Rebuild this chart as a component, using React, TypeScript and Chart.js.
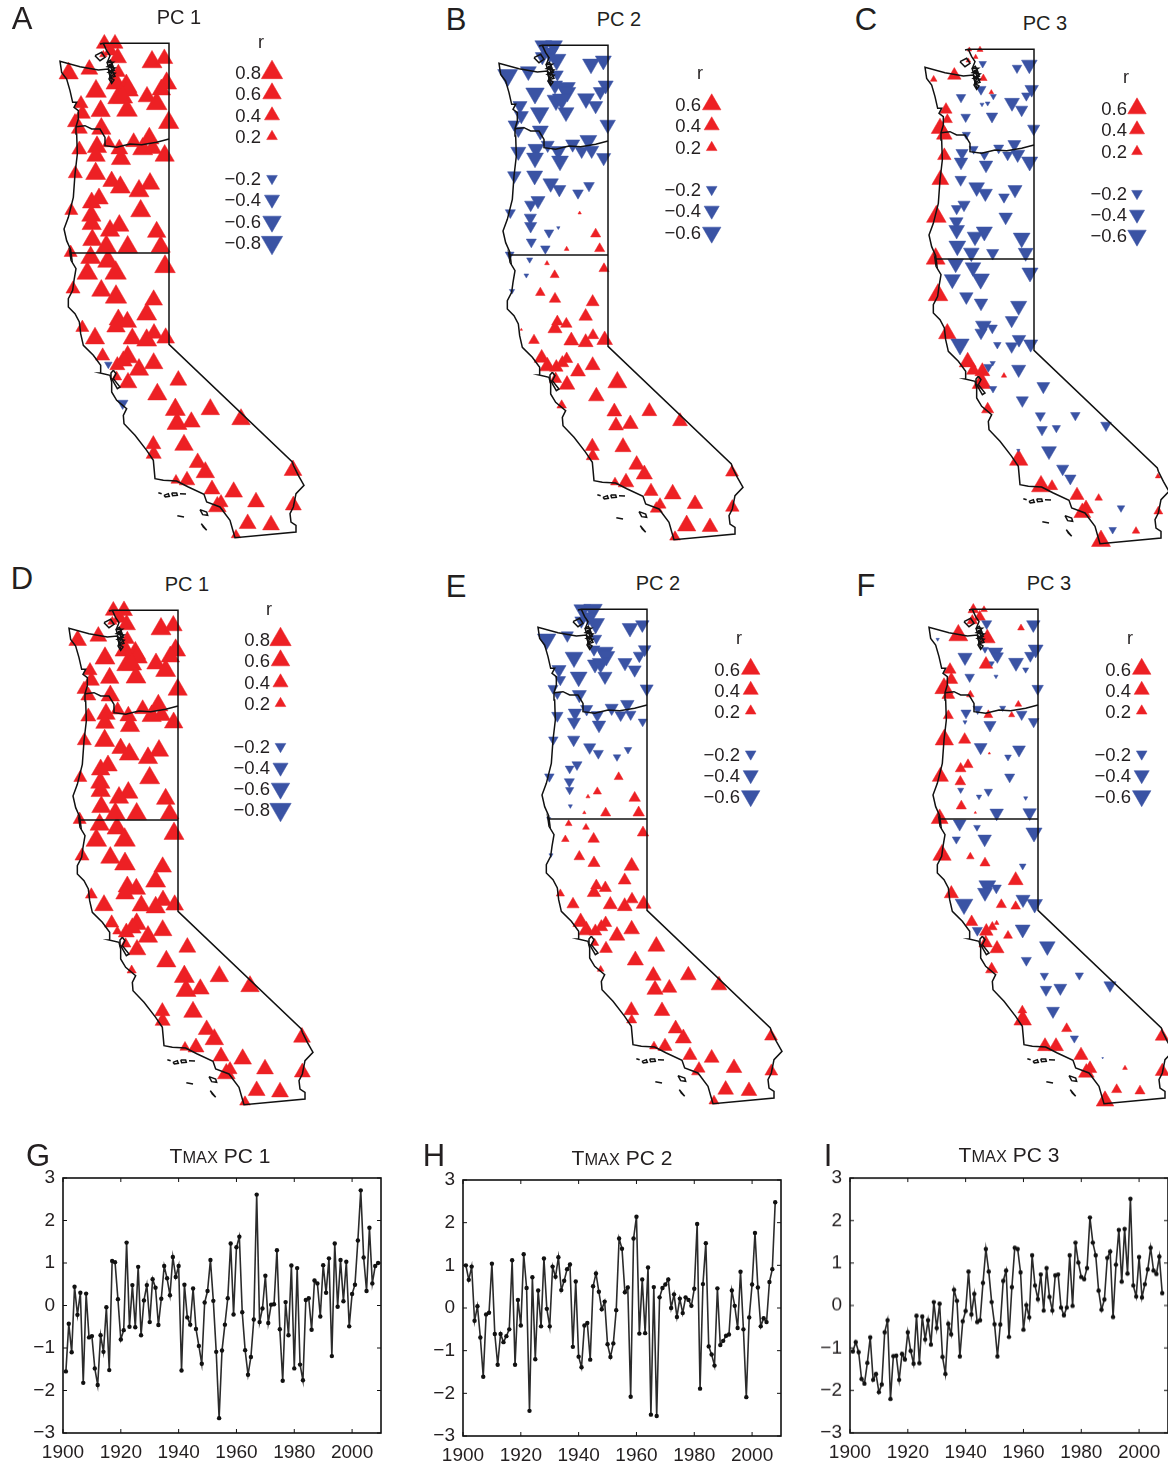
import React, { useEffect, useRef } from "react";
import { Chart, registerables } from "chart.js";

Chart.register(...registerables);

// Stations, in map-grid units (east / north of the 120W, 42N corner of the study box)
const stationEast = [
  -194, -162, -175, -197, -154, -51, -14, -239, -301, -152,
  -159, -7, -128, -122, -23, -219, -156, -139, -66, -37,
  -205, -126, -264, -260, -282, -269, -1, -203, -181, -106,
  -59, -149, -216, -79, -49, -269, -219, -144, -13, -281,
  -220, -172, -146, -90, -57, -232, -210, -293, -85, -233,
  -232, -149, -177, -37, -230, -188, -124, -25, -295, -235,
  -183, -12, -245, -160, -288, -203, -159, -46, -67, -152,
  -125, -159, -260, -222, -110, -67, -45, -10, -199, -182,
  -155, -124, -137, -90, -46, -157, -123, 28, -35, -139,
  19, 124, 24, 67, 216, 45, -46, -47, 86, 109,
  372, 21, 54, 129, 194, 261, 373, 156, 145, 236, 306, 201,
];
const stationNorth = [
  628, 628, 606, 595, 586, 573, 583, 551, 539, 542,
  509, 509, 500, 488, 490, 485, 464, 467, 469, 448,
  426, 428, 448, 418, 392, 373, 391, 373, 330, 333,
  344, 312, 318, 312, 314, 310, 291, 282, 292, 238,
  238, 215, 197, 186, 208, 151, 163, 127, 126, 112,
  87, 82, 67, 63, 39, 19, 18, 19, 1, -14,
  -25, -41, -61, -60, -108, -113, -132, -141, -184, -200,
  -207, -221, -224, -256, -257, -262, -241, -255, -309, -334,
  -337, -312, -324, -350, -331, -372, -389, -382, -424, -451,
  -470, -469, -512, -507, -499, -576, -603, -574, -629, -658,
  -652, -682, -682, -709, -717, -747, -757, -749, -761, -812, -816, -846,
];

// Correlation r per station, one list per panel
const rA = [
  .45, .45, .35, .1, .55, .7, .5, .5, .65, .35,
  .7, .7, .8, .7, .6, .75, .6, .7, .55, .75,
  .65, .75, .35, .45, .4, .45, .72, .65, .3, .45,
  .65, .5, .65, .7, .55, .4, .6, .65, .65, .35,
  .7, .55, .7, .7, .65, .6, .6, .3, .7, .65,
  .65, .65, .65, .6, .65, .75, .7, .65, .3, .7,
  .75, .75, .75, .8, .35, .65, .8, .55, .7, .6,
  .6, .6, .3, .65, .6, .7, .5, .55, .35, -.1,
  .4, .7, .55, .65, .6, .18, .55, .5, .65, -.2,
  .7, .6, .7, .55, .6, .6, .4, .4, .5, .6,
  .55, .18, .43, .45, .55, .5, .45, .35, .55, .5, .5, .16,
];
const rB = [
  -.5, -.5, -.5, -.35, -.6, -.5, -.45, -.45, -.7, -.25,
  -.4, -.4, -.7, -.5, -.35, -.6, -.55, -.6, -.5, -.35,
  -.6, -.45, -.35, -.35, -.25, -.25, -.42, -.45, -.3, -.35,
  -.5, -.42, -.45, -.3, -.35, -.4, -.5, -.5, -.35, -.32,
  -.45, -.42, -.3, -.2, -.2, -.26, -.35, -.18, .02, -.26,
  -.26, -.02, -.16, .18, -.18, -.16, .04, .18, -.14, -.065,
  .04, .18, -.04, .14, -.05, .16, .23, .29, .32, .23,
  .23, .35, .01, .2, .39, .39, .23, .43, .39, .43,
  .32, .26, .29, .39, .39, .26, .43, .63, .43, .16,
  .39, .39, .39, .43, .39, .46, .29, .35, .43, .46,
  .29, .14, .43, .35, .5, .43, .32, .26, .26, .59, .43, .2,
];
const rC = [
  .04, .065, .04, .04, -.1, -.16, -.43, .32, .08, .1,
  -.18, -.32, .04, -.065, -.16, -.16, -.03, -.04, -.39, -.26,
  -.16, -.23, .26, .18, .54, .43, -.26, -.12, -.14, -.18,
  -.29, -.14, -.26, -.18, -.35, .32, -.32, -.32, -.46, .5,
  -.23, -.43, -.35, -.2, -.35, -.2, -.26, .68, -.32, -.32,
  -.43, -.46, -.43, -.5, -.5, -.43, -.26, -.39, .63, -.43,
  -.43, -.46, -.46, -.54, .68, -.32, -.32, -.46, -.29, -.43,
  -.18, -.26, .54, -.59, -.1, -.26, -.32, -.35, .5, .32,
  .39, -.05, -.14, .05, -.35, .63, -.1, -.29, -.26, .26,
  -.18, -.16, -.2, -.12, -.2, -.39, .59, -.02, -.26, -.23,
  .05, .63, .23, .35, .1, -.1, .14, .39, .5, -.1, .1, .63,
];
const rD = [
  .45, .5, .4, .15, .55, .7, .55, .5, .55, .35,
  .7, .7, .75, .7, .6, .7, .6, .7, .6, .7,
  .6, .7, .35, .45, .35, .4, .65, .6, .35, .45,
  .65, .5, .6, .65, .55, .4, .6, .65, .6, .35,
  .7, .55, .7, .65, .65, .6, .6, .3, .7, .65,
  .65, .65, .65, .6, .65, .7, .7, .6, .3, .65,
  .7, .7, .75, .8, .35, .65, .75, .55, .7, .6,
  .6, .6, .25, .6, .6, .65, .55, .55, .35, .15,
  .45, .65, .55, .65, .6, .2, .55, .5, .65, .15,
  .7, .6, .7, .55, .6, .6, .4, .4, .5, .6,
  .5, .18, .45, .45, .55, .5, .45, .35, .55, .5, .5, .2,
];
const rE = [
  -.5, -.6, -.4, -.3, -.55, -.43, -.32, -.26, -.6, -.2,
  -.25, -.28, -.55, -.5, -.26, -.55, -.4, -.5, -.35, -.3,
  -.5, -.35, -.35, -.2, -.18, -.12, -.3, -.35, -.26, -.3,
  -.32, -.26, -.32, -.23, -.2, -.23, -.3, -.32, -.14, -.16,
  -.26, -.26, -.18, -.1, -.1, -.14, -.18, -.16, .14, -.18,
  -.12, .12, .03, .23, -.03, .02, .18, .23, -.03, .08,
  .08, .23, .1, .23, -.03, .2, .26, .39, .29, .23,
  .26, .32, .12, .26, .35, .39, .26, .39, .43, .43,
  .29, .26, .29, .43, .43, .12, .29, .5, .46, .08,
  .43, .43, .46, .39, .43, .43, .18, .39, .39, .46,
  .29, .14, .35, .35, .39, .43, .29, .26, .1, .43, .43, .18,
];
const rF = [
  .2, .08, .23, .2, -.18, .08, -.32, .63, -.02, .43,
  -.08, -.39, -.39, -.26, -.23, -.35, .32, -.05, -.39, -.065,
  -.16, -.03, .26, .29, .59, .29, -.23, .1, -.16, -.065,
  .08, .14, -.18, .065, -.2, .18, -.03, -.26, -.2, .59,
  .26, -.29, .01, -.08, -.29, .2, .18, .46, -.18, .2,
  -.065, -.12, -.05, -.03, .18, .01, -.32, -.32, .5, -.29,
  -.08, -.46, -.12, -.32, .59, .1, .18, -.08, .39, -.5,
  -.18, -.39, .35, -.55, .18, .16, -.35, -.43, .26, -.18,
  .32, .04, .16, .14, -.39, .32, .35, -.43, -.18, .26,
  -.12, -.12, -.23, -.29, -.26, -.29, .54, .14, .18, -.12,
  .32, .39, .39, .35, -.005, .04, .35, .32, .43, .18, .18, .54,
];

// Map outlines, in the same grid units: [east, north]
const boundaryLine = [
  [-207, 627], [-197, 629], [0, 629], [0, -274], [370, -627], [373, -637], [388, -667], [405, -697],
  [381, -722], [373, -762], [363, -782], [366, -807], [381, -817], [381, -837], [198, -854],
  [193, -837], [183, -802], [153, -762], [113, -747], [105, -724], [58, -702], [23, -684], [-17, -682],
  [-42, -677], [-47, -622], [-67, -592], [-102, -547], [-135, -512], [-137, -487], [-127, -467],
  [-157, -442], [-172, -417], [-172, -387], [-177, -367], [-207, -360], [-205, -337], [-227, -307],
  [-257, -277], [-265, -242], [-269, -207], [-282, -182], [-302, -162], [-302, -137], [-289, -112],
  [-285, -82], [-279, -47], [-294, -22], [-297, 0], [-292, -13], [-295, 10], [-307, 37], [-315, 72],
  [-302, 107], [-287, 167], [-282, 237], [-275, 297], [-277, 357], [-279, 379], [-272, 402], [-272, 427],
  [-285, 437], [-277, 452], [-289, 452], [-297, 487], [-307, 522], [-322, 542], [-327, 575], [-267, 559],
  [-212, 549], [-182, 552], [-172, 512],
];
const columbiaLine = [
  [-279, 379], [-252, 382], [-232, 372], [-207, 372], [-192, 347], [-192, 322], [-157, 317], [-117, 327],
  [-82, 325], [-37, 332], [0, 342],
];
const borderLine = [[-297, 0], [0, 0]];
const sanJuanLoop = [[-222, 592], [-202, 602], [-192, 587], [-207, 577], [-222, 592]];
const pugetLine = [
  [-197, 629], [-187, 607], [-177, 592], [-185, 572], [-167, 572], [-185, 559], [-162, 555], [-182, 542],
  [-162, 539], [-177, 527], [-165, 519], [-172, 509], [-180, 522], [-170, 545], [-178, 565], [-165, 560],
];
const pugetLoops = [
  [[-186, 572], [-176, 578], [-170, 566], [-182, 560], [-186, 572]],
  [[-182, 556], [-170, 560], [-164, 548], [-178, 544], [-182, 556]],
  [[-180, 540], [-168, 544], [-162, 530], [-175, 526], [-180, 540]],
];
const bayLoop = [
  [-167, -352], [-159, -362], [-167, -377], [-147, -402], [-155, -407], [-172, -377], [-174, -360], [-167, -352],
];
const islandLines = [
  [[-32, -719], [-22, -722]],
  [[-15, -727], [-2, -722], [1, -730], [-11, -732], [-15, -727]],
  [[8, -720], [23, -720], [25, -727], [11, -728], [8, -720]],
  [[33, -722], [51, -723]],
  [[25, -788], [45, -792]],
  [[93, -770], [113, -777], [116, -787], [101, -785], [93, -770]],
  [[97, -812], [113, -832], [103, -822], [97, -812]],
];

// Tmax principal components, yearly, from 1901
const firstYear = 1901;
const tmaxPc1 = [
  -1.55, -.43, -1.1, .44, -.22, .3, -1.82, .28, -.75, -.72,
  -1.48, -1.87, -.7, -1.09, -.04, -1.52, 1.05, 1.02, .15, -.8,
  -.58, 1.48, -.5, .48, -.51, .91, -.7, .12, .48, -.39,
  .62, .42, -.46, .16, .93, .64, .24, 1.14, .67, .93,
  -1.53, .49, -.28, -.45, .4, -.55, -.95, -1.37, .07, .34,
  1.07, .11, -1.09, -2.65, -1.06, -.45, .17, 1.46, -.21, 1.37,
  1.62, -.16, -1.05, -1.63, -1.21, -.33, 2.61, -.39, -.07, .7,
  -.41, .02, .03, 1.3, -.56, -1.77, .08, -.7, .94, -1.48,
  .88, -1.39, -1.76, .13, .17, -.57, .59, .52, -.26, .95,
  .3, 1.11, -1.19, 1.46, -.03, 1.07, .1, 1.03, -.49, .27,
  .49, 1.53, 2.71, 1.13, .34, 1.83, .52, .93, 1.0,
];
const tmaxPc2 = [
  1.0, .66, .97, -.3, .04, -.69, -1.61, -.15, -.11, 1.04,
  -.61, -1.33, -.61, -.8, -.66, -.5, 1.12, -1.33, .19, -.41,
  1.26, .47, -2.41, .72, -1.2, .41, -.43, 1.16, -.02, -.43,
  .97, .73, 1.19, .42, .64, .91, 1.02, -.91, .62, -1.14,
  -1.39, -.41, -.35, -1.21, .51, .81, .38, -.03, .15, -.85,
  -1.15, -.83, -.05, 1.63, 1.39, .37, .48, -2.08, 1.63, 2.14,
  -.6, .67, -.59, .95, -2.5, .49, -2.53, .25, .47, .55,
  .67, 0, .32, -.21, .22, -.12, .25, .19, .05, .45,
  1.97, -1.89, .56, 1.52, -.9, -1.09, -1.35, .46, -.87, -.77,
  -.65, -.62, .41, .05, -.47, .85, -.5, -2.09, -.22, .55,
  1.76, .48, -.43, -.24, -.33, .61, .91, 2.48,
];
const tmaxPc3 = [
  -1.08, -.86, -1.1, -1.73, -1.84, -1.35, -.75, -1.75, -1.61, -2.04,
  -1.86, -.63, -.35, -2.2, -1.19, -1.18, -1.75, -1.14, -1.27, -.63,
  -1.07, -1.37, -.24, -1.36, -.26, -.8, -.35, -.92, .08, -.53,
  .04, -1.21, -1.61, -.43, -.68, .37, .11, -1.2, -.37, -.13,
  .8, -.21, .27, -.39, -.35, .53, 1.33, .8, .08, -.44,
  -1.2, -.45, .58, .82, -.74, .43, 1.36, 1.33, .78, -.57,
  .01, -.28, 1.18, .47, .15, .73, -.12, .88, .2, -.12,
  .71, .73, -.05, -.23, -.05, 1.18, -.01, 1.48, 1.01, .67,
  .62, .88, 2.07, 1.48, 1.18, .35, -.1, .14, 1.12, 1.27,
  -.27, .96, 1.78, .56, 1.8, .75, 2.51, .47, .21, 1.14,
  .19, .5, .85, 1.36, .82, .74, 1.15, .29,
];

// Legend levels
const legendFour = [0.8, 0.6, 0.4, 0.2, -0.2, -0.4, -0.6, -0.8];
const legendThree = [0.6, 0.4, 0.2, -0.2, -0.4, -0.6];

const RED = "#ED2024";
const BLUE = "#3A53A4";
const INK = "#231F20";
const FONT = '"Liberation Sans", Arial, sans-serif';
const UNITS_PER_PX = 3;
const MARKER_K = 13.8;

const mapPanels = [
  { key: "A", r: rA, ax: 169, ay: 252.5, levels: legendFour, rx: 261, ry: 42, lx: 261, mx: 272, rows: [72, 93, 115, 136, 178, 199, 221, 242] },
  { key: "B", r: rB, ax: 608.3, ay: 254.5, levels: legendThree, rx: 700, ry: 73, lx: 701, mx: 712, rows: [104, 125, 147, 189, 210, 232] },
  { key: "C", r: rC, ax: 1034, ay: 258.5, levels: legendThree, rx: 1126, ry: 77, lx: 1127, mx: 1137, rows: [108, 129, 151, 193, 214, 235] },
  { key: "D", r: rD, ax: 177.5, ay: 819.5, levels: legendFour, rx: 269, ry: 609, lx: 270, mx: 280, rows: [639, 660, 682, 703, 746, 767, 788, 809] },
  { key: "E", r: rE, ax: 647.3, ay: 819, levels: legendThree, rx: 739, ry: 638, lx: 740, mx: 751, rows: [669, 690, 711, 754, 775, 796] },
  { key: "F", r: rF, ax: 1038.3, ay: 819, levels: legendThree, rx: 1130, ry: 638, lx: 1131, mx: 1142, rows: [669, 690, 711, 754, 775, 796] },
];

const seriesPanels = [
  { key: "G", values: tmaxPc1, left: 63, right: 381, top: 1178, bottom: 1433 },
  { key: "H", values: tmaxPc2, left: 463, right: 781, top: 1180, bottom: 1436 },
  { key: "I", values: tmaxPc3, left: 850, right: 1168, top: 1178, bottom: 1432.5 },
];

const letters = [
  ["A", 22, 18], ["B", 456, 19], ["C", 866, 19], ["D", 22, 578], ["E", 456, 586], ["F", 866, 585],
  ["G", 38, 1155], ["H", 434, 1155], ["I", 828, 1155],
] as const;
const mapTitles = [
  ["PC 1", 179, 17], ["PC 2", 619, 19], ["PC 3", 1045, 23], ["PC 1", 187, 584], ["PC 2", 658, 583], ["PC 3", 1049, 583],
] as const;
const seriesTitles = [
  ["PC 1", 220, 1155], ["PC 2", 622, 1157], ["PC 3", 1009, 1154],
] as const;

const fmtLevel = (v: number) => (v < 0 ? "\u2212" : "") + Math.abs(v).toFixed(1);

const LEFT_PX = 140;
const RIGHT_PX = 165;
const UP_PX = 225;
const DOWN_PX = 295;

const markerColor = (c: any) => ((c.raw?.r ?? 0) < 0 ? BLUE : RED);
const markerRadius = (c: any) => MARKER_K * Math.sqrt(Math.abs(c.raw?.r ?? 0));
const markerOpts = {
  pointStyle: "triangle",
  pointRadius: markerRadius,
  pointHoverRadius: markerRadius,
  pointRotation: (c: any) => ((c.raw?.r ?? 0) < 0 ? 180 : 0),
  pointBackgroundColor: markerColor,
  pointBorderColor: markerColor,
  pointBorderWidth: 0.5,
  showLine: false,
};

function outline(points: number[][], order: number) {
  return {
    data: points.map(([x, y]) => ({ x, y })),
    showLine: true,
    pointRadius: 0,
    borderColor: "#111",
    borderWidth: 1.5,
    tension: 0,
    order,
  };
}

function MapPanel({ p }: { p: (typeof mapPanels)[number] }) {
  const ref = useRef<HTMLCanvasElement>(null);
  useEffect(() => {
    const stations = stationEast.map((x, i) => ({ x, y: stationNorth[i], r: p.r[i] }));
    const legend = p.levels.map((r, i) => ({
      x: (p.mx - p.ax) * UNITS_PER_PX,
      y: (p.ay - p.rows[i]) * UNITS_PER_PX,
      r,
    }));
    const lines = [boundaryLine, columbiaLine, borderLine, sanJuanLoop, pugetLine, ...pugetLoops, bayLoop, ...islandLines];
    const chart = new Chart(ref.current!, {
      type: "scatter",
      data: {
        datasets: [
          ...lines.map((l) => outline(l, 0)),
          { data: stations, order: 1, ...markerOpts },
          { data: legend, order: 1, ...markerOpts },
        ] as any,
      },
      options: {
        animation: false,
        responsive: false,
        devicePixelRatio: 1,
        layout: { padding: 0, autoPadding: false },
        plugins: { legend: { display: false }, tooltip: { enabled: false } },
        scales: {
          x: { type: "linear", display: false, min: -LEFT_PX * UNITS_PER_PX, max: RIGHT_PX * UNITS_PER_PX },
          y: { type: "linear", display: false, min: -DOWN_PX * UNITS_PER_PX, max: UP_PX * UNITS_PER_PX },
        },
      },
    });
    return () => chart.destroy();
  }, [p]);
  return (
    <canvas
      ref={ref}
      width={LEFT_PX + RIGHT_PX}
      height={UP_PX + DOWN_PX}
      style={{ position: "absolute", left: p.ax - LEFT_PX, top: p.ay - UP_PX, width: LEFT_PX + RIGHT_PX, height: UP_PX + DOWN_PX }}
    />
  );
}

const frameAndTicks = {
  id: "frameAndTicks",
  afterDatasetsDraw(chart: any) {
    const { ctx, chartArea: a, scales } = chart;
    const len = 4;
    ctx.save();
    ctx.strokeStyle = "#111";
    ctx.lineWidth = 1.6;
    ctx.strokeRect(a.left, a.top, a.right - a.left, a.bottom - a.top);
    ctx.lineWidth = 1;
    ctx.beginPath();
    scales.x.ticks.forEach((t: any) => {
      const x = scales.x.getPixelForValue(t.value);
      ctx.moveTo(x, a.bottom);
      ctx.lineTo(x, a.bottom - len);
      ctx.moveTo(x, a.top);
      ctx.lineTo(x, a.top + len);
    });
    scales.y.ticks.forEach((t: any) => {
      const y = scales.y.getPixelForValue(t.value);
      ctx.moveTo(a.left, y);
      ctx.lineTo(a.left + len, y);
      ctx.moveTo(a.right, y);
      ctx.lineTo(a.right - len, y);
    });
    ctx.stroke();
    ctx.restore();
  },
};

const PAD_LEFT = 48;
const PAD_RIGHT = 12;
const PAD_TOP = 14;
const PAD_BOTTOM = 32;

function SeriesPanel({ p }: { p: (typeof seriesPanels)[number] }) {
  const ref = useRef<HTMLCanvasElement>(null);
  useEffect(() => {
    const tickFont = { family: FONT, size: 19 };
    const chart = new Chart(ref.current!, {
      type: "scatter",
      data: {
        datasets: [
          {
            data: p.values.map((y, i) => ({ x: firstYear + i, y })),
            showLine: true,
            tension: 0,
            borderColor: "#2b2b2b",
            borderWidth: 1.6,
            pointRadius: 2.2,
            pointBackgroundColor: "#111",
            pointBorderWidth: 0,
          },
        ] as any,
      },
      options: {
        animation: false,
        responsive: false,
        devicePixelRatio: 1,
        layout: { padding: { top: PAD_TOP, right: PAD_RIGHT, left: 0, bottom: 0 }, autoPadding: false },
        plugins: { legend: { display: false }, tooltip: { enabled: false } },
        scales: {
          x: {
            type: "linear",
            min: 1900,
            max: 2010,
            grid: { display: false, drawTicks: false },
            border: { display: false },
            afterFit: (s: any) => { s.height = PAD_BOTTOM; s.paddingLeft = 0; s.paddingRight = 0; },
            ticks: {
              stepSize: 20,
              includeBounds: false,
              maxRotation: 0,
              autoSkip: false,
              padding: 8,
              color: INK,
              font: tickFont,
              callback: (v: any) => String(v),
            },
          },
          y: {
            type: "linear",
            min: -3,
            max: 3,
            grid: { display: false, drawTicks: false },
            border: { display: false },
            afterFit: (s: any) => { s.width = PAD_LEFT; s.paddingTop = 0; s.paddingBottom = 0; },
            ticks: {
              stepSize: 1,
              padding: 8,
              color: INK,
              font: tickFont,
              callback: (v: any) => (Number(v) < 0 ? "\u2212" + Math.abs(Number(v)) : String(v)),
            },
          },
        },
      },
      plugins: [frameAndTicks],
    });
    return () => chart.destroy();
  }, [p]);
  const w = p.right - p.left + PAD_LEFT + PAD_RIGHT;
  const h = p.bottom - p.top + PAD_TOP + PAD_BOTTOM;
  return (
    <canvas
      ref={ref}
      width={w}
      height={h}
      style={{ position: "absolute", left: p.left - PAD_LEFT, top: p.top - PAD_TOP, width: w, height: h }}
    />
  );
}

function Label({ x, y, size, align = "center", children }: any) {
  const tx = align === "right" ? "-100%" : "-50%";
  return (
    <div
      style={{
        position: "absolute",
        left: x,
        top: y,
        transform: `translate(${tx}, -50%)`,
        fontFamily: FONT,
        fontSize: size,
        lineHeight: 1,
        color: INK,
        whiteSpace: "nowrap",
      }}
    >
      {children}
    </div>
  );
}

export default function App() {
  return (
    <div style={{ position: "absolute", left: 0, top: 0, width: 1168, height: 1466, overflow: "hidden", background: "#fff" }}>
      {mapPanels.map((p) => <MapPanel key={p.key} p={p} />)}
      {seriesPanels.map((p) => <SeriesPanel key={p.key} p={p} />)}
      {letters.map(([t, x, y]) => <Label key={t} x={x} y={y} size={31}>{t}</Label>)}
      {mapTitles.map(([t, x, y], i) => <Label key={i} x={x} y={y} size={20}>{t}</Label>)}
      {seriesTitles.map(([t, x, y], i) => (
        <Label key={i} x={x} y={y} size={21}>
          T<span style={{ fontSize: "0.78em" }}>MAX</span> {t}
        </Label>
      ))}
      {mapPanels.map((p) => (
        <React.Fragment key={p.key}>
          <Label x={p.rx} y={p.ry} size={18}>r</Label>
          {p.levels.map((v, i) => (
            <Label key={i} x={p.lx} y={p.rows[i] + 0.5} size={18.5} align="right">{fmtLevel(v)}</Label>
          ))}
        </React.Fragment>
      ))}
    </div>
  );
}
